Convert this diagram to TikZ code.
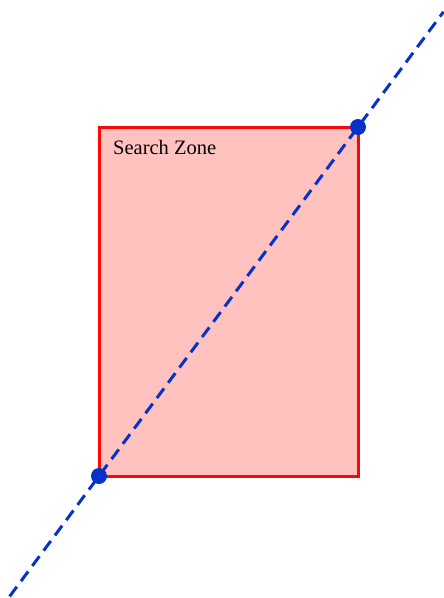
\documentclass[tikz,border=0pt]{standalone}
\usepackage{fontspec}
\setmainfont{Liberation Serif}
\usetikzlibrary{calc}
\definecolor{zonefill}{RGB}{255,194,190}
\definecolor{zoneline}{RGB}{250,8,8}
\definecolor{lineblue}{RGB}{5,50,200}
\tikzset{
  zone/.style={draw=zoneline, fill=zonefill, line width=3pt},
  dot/.style={circle, fill=lineblue, inner sep=0pt, minimum size=16pt},
  dashline/.style={draw=lineblue, line width=3pt, dash pattern=on 12pt off 7pt},
  lbl/.style={anchor=base west, font=\fontsize{20.5pt}{22pt}\selectfont, inner sep=0pt}
}
\begin{document}
\begin{tikzpicture}[x=1pt,y=-1pt]
\useasboundingbox (0,0) rectangle (444,598);
\draw[zone] (99,127) rectangle (358,476);
\node[lbl] (label) at (113,154) {Search Zone};
\coordinate (p) at (99,476);
\coordinate (q) at (358,127);
\coordinate (lo) at ($(p)!-0.345!(q)$);
\coordinate (hi) at ($(p)!1.33!(q)$);
\draw[dashline] (lo) -- (hi);
\node[dot] (dp) at (p) {};
\node[dot] (dq) at (q) {};
\end{tikzpicture}
\end{document}
